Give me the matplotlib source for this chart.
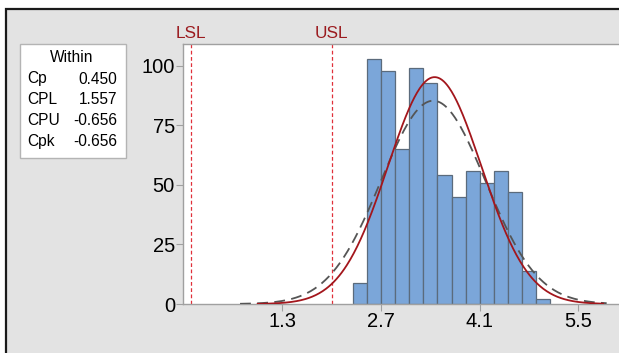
import numpy as np
import matplotlib
matplotlib.use("Agg")
import matplotlib.pyplot as plt
from matplotlib.patches import Rectangle
from matplotlib.transforms import blended_transform_factory

# ---------------------------------------------------------------------------
# data
# ---------------------------------------------------------------------------
bin_edges = [2.3, 2.5, 2.7, 2.9, 3.1, 3.3, 3.5, 3.7, 3.9, 4.1, 4.3, 4.5, 4.7, 4.9, 5.1]
counts = [9, 103, 98, 65, 99, 93, 54, 45, 56, 51, 56, 47, 14, 2]

lsl, usl = 0.0, 2.0

# fitted normal curves (within = solid red, overall = dashed grey)
within_mean, within_sigma = 3.46, 0.663
within_range = (0.95, 5.85)
overall_mean, overall_sigma = 3.44, 0.74
overall_range = (0.70, 5.90)

stat_names = ["Cp", "CPL", "CPU", "Cpk"]
stat_values = ["0.450", "1.557", "-0.656", "-0.656"]

x_ticks = [1.3, 2.7, 4.1, 5.5]
y_ticks = [0, 25, 50, 75, 100]

NARROW = ["Liberation Sans Narrow", "Liberation Sans", "DejaVu Sans"]
ARIAL = ["Liberation Sans", "DejaVu Sans"]
GREY = "#a0a0a0"


def normal_curve(mean, sigma, lo, hi, n_obs, width):
    xs = np.linspace(lo, hi, 400)
    ys = n_obs * width * np.exp(-0.5 * ((xs - mean) / sigma) ** 2) / (sigma * np.sqrt(2 * np.pi))
    return xs, ys


W, H = 619, 353
fig = plt.figure(figsize=(W / 100, H / 100), dpi=100, facecolor="white")

# grey panel with a dark frame on top/left (behind the axes)
fig.patches.append(Rectangle((6 / W, -0.1), 1.2, (H - 9) / H + 0.1, transform=fig.transFigure,
                             facecolor="#e3e3e3", edgecolor="#1a1a1a", linewidth=1.6, zorder=-5))

ax = fig.add_axes([183.3 / W, 49 / H, 1 - 183.3 / W, (304 - 44.3) / H])
ax.set_facecolor("white")

widths = np.diff(bin_edges)
ax.bar(bin_edges[:-1], counts, width=widths, align="edge",
       color="#7ba6d9", edgecolor="#5b6b7c", linewidth=0.9, zorder=2)

n_obs = sum(counts)
bw = widths[0]
xs, ys = normal_curve(overall_mean, overall_sigma, *overall_range, n_obs, bw)
ax.plot(xs, ys, color="#555555", lw=1.3, dashes=(6, 3.5), zorder=3)
xs, ys = normal_curve(within_mean, within_sigma, *within_range, n_obs, bw)
ax.plot(xs, ys, color="#a3161c", lw=1.3, zorder=4)

label_tf = blended_transform_factory(ax.transData, fig.transFigure)
for val, name in [(lsl, "LSL"), (usl, "USL")]:
    ax.axvline(val, color="#e0303a", lw=0.9, dashes=(3, 2), zorder=1)
    ax.text(val, (H - 38) / H, name, transform=label_tf, clip_on=False,
            ha="center", va="baseline", color="#9b1b1f", fontsize=12.4, family=NARROW)

ax.set_xlim(-0.105, 6.075)
ax.set_ylim(0, 109.1)
ax.set_xticks(x_ticks)
ax.set_xticklabels([f"{t:.1f}" for t in x_ticks])
ax.set_yticks(y_ticks)
ax.tick_params(axis="both", direction="out", length=5, width=0.8, color=GREY,
               labelsize=14.5, pad=1)
for lab in ax.get_xticklabels() + ax.get_yticklabels():
    lab.set_family(NARROW)
for side in ["left", "bottom", "top"]:
    ax.spines[side].set_color(GREY)
    ax.spines[side].set_linewidth(1.0)
ax.spines["right"].set_visible(False)

# "Within" capability stats box
fig.patches.append(Rectangle((20 / W, (H - 158) / H), 106 / W, 114 / H, transform=fig.transFigure,
                             facecolor="white", edgecolor="#b4b4b4", linewidth=1.0, zorder=1))
fig.text(72 / W, (H - 57.5) / H, "Within", ha="center", va="center", fontsize=11.2, family=ARIAL)
row_y = [79, 99.3, 120.7, 141.7]
for name, value, y in zip(stat_names, stat_values, row_y):
    fig.text(27 / W, (H - y) / H, name, ha="left", va="center", fontsize=11.2, family=ARIAL)
    fig.text(117 / W, (H - y) / H, value, ha="right", va="center", fontsize=11.2, family=ARIAL)

fig.savefig("out.png", dpi=100, facecolor=fig.get_facecolor())
